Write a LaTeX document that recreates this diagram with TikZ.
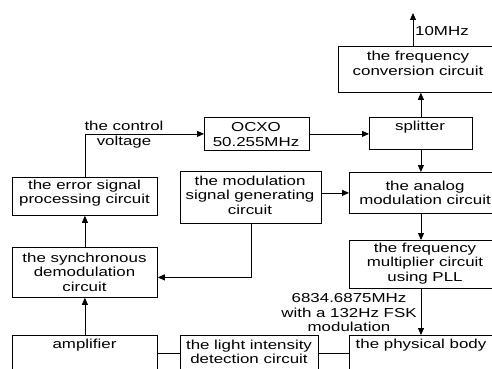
\documentclass[tikz,border=0pt]{standalone}
\usepackage{fontspec}
\setmainfont{Liberation Sans}[FakeStretch=1.3]
\usetikzlibrary{arrows.meta}
\begin{document}
\begin{tikzpicture}[x=1pt,y=-1pt,
  box/.style={draw, line width=0.8pt, inner sep=0pt, anchor=north west},
  lbl/.style={align=center, inner sep=0pt, font=\fontsize{13}{14.5}\selectfont},
  conn/.style={line width=0.8pt},
  arr/.style={conn, -{Triangle[length=7pt,width=6pt]}}]
\useasboundingbox (0,0) rectangle (492,369);
\clip (0,0) rectangle (492,369);
% boxes
\node[box, minimum width=160pt, minimum height=46pt] (freq) at (338,46) {};
\node[box, minimum width=103pt, minimum height=32pt] (split) at (369,117) {};
\node[box, minimum width=105pt, minimum height=33pt] (ocxo) at (204,117) {};
\node[box, minimum width=145pt, minimum height=38pt] (err) at (12,177) {};
\node[box, minimum width=141pt, minimum height=52pt] (mod) at (180,171) {};
\node[box, minimum width=152pt, minimum height=41pt] (an) at (349,172) {};
\node[box, minimum width=145pt, minimum height=50pt] (sync) at (12,247) {};
\node[box, minimum width=152pt, minimum height=48pt] (mult) at (349,240) {};
\node[box, minimum width=145pt, minimum height=70pt] (amp) at (12,335) {};
\node[box, minimum width=138pt, minimum height=70pt] (light) at (180,335) {};
\node[box, minimum width=152pt, minimum height=70pt] (phys) at (349,335) {};
% box texts
\node[lbl] (tfreq) at (418,63.5) {the frequency\\conversion circuit};
\node[lbl] (tsplit) at (420,127) {splitter};
\node[lbl] (tocxo) at (256,134.5) {OCXO\\50.255MHz};
\node[lbl] (terr) at (84.5,193) {the error signal\\processing circuit};
\node[lbl] (tmod) at (250,195) {the modulation\\signal generating\\circuit};
\node[lbl] (tan) at (425,193) {the analog\\modulation circuit};
\node[lbl] (tsync) at (84.5,272) {the synchronous\\demodulation\\circuit};
\node[lbl] (tmult) at (425,263.5) {the frequency\\multiplier circuit\\using PLL};
\node[lbl] (tamp) at (84.5,345) {amplifier};
\node[lbl] (tlight) at (249,352) {the light intensity\\detection circuit};
\node[lbl] (tphys) at (421,345) {the physical body};
% other labels
\node[lbl, anchor=west] (l10) at (415,31) {10MHz};
\node[lbl] (lctl) at (124,134.5) {the control\\voltage};
\node[lbl] (lfsk) at (349,313) {6834.6875MHz\\with a 132Hz FSK\\modulation};
% connectors
\coordinate (top) at (413,13);
\coordinate (rc) at (421,0);
\coordinate (by) at (0,353);
\draw[arr] (top|-freq.north) -- (top);
\draw[arr] (split.north) -- (split.north|-freq.south);
\draw[arr] (split.south) -- (split.south|-an.north);
\draw[arr] (ocxo.east) -- (ocxo.east-|split.west);
\draw[arr] (err.north) |- (ocxo.west);
\draw[arr] (mod.east|-an.west) -- (an.west);
\draw[arr] (rc|-an.south) -- (rc|-mult.north);
\draw[arr] (rc|-mult.south) -- (rc|-phys.north);
\draw[arr] (mod.south) |- ([yshift=-5pt]sync.east);
\draw[arr] (sync.north) -- (err.south);
\draw[arr] (amp.north) -- (sync.south);
\draw[conn] (amp.east|-by) -- (light.west|-by);
\draw[conn] (light.east|-by) -- (phys.west|-by);
\end{tikzpicture}
\end{document}
